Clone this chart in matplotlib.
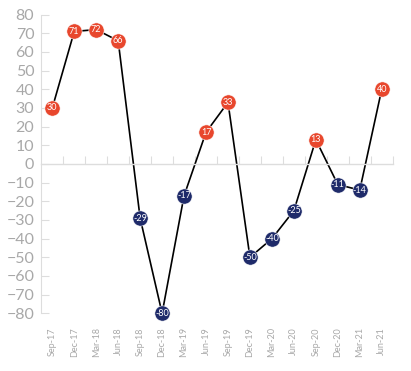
import matplotlib
matplotlib.use("Agg")
import matplotlib.pyplot as plt
from matplotlib.ticker import MultipleLocator, FixedLocator

quarters = ["Sep-17", "Dec-17", "Mar-18", "Jun-18", "Sep-18", "Dec-18", "Mar-19", "Jun-19",
            "Sep-19", "Dec-19", "Mar-20", "Jun-20", "Sep-20", "Dec-20", "Mar-21", "Jun-21"]
values = [30, 71, 72, 66, -29, -80, -17, 17, 33, -50, -40, -25, 13, -11, -14, 40]

RED = "#E8472D"
NAVY = "#1F2B6A"
GREY = "#A8A8A8"

plt.rcParams["font.family"] = ["Lato", "DejaVu Sans"]

fig = plt.figure(figsize=(4.11, 3.71), dpi=100)
ax = fig.add_axes([0.1005, 0.1555, 0.855, 0.805])

x = list(range(len(values)))
ax.plot(x, values, color="black", lw=1.2, zorder=2)
for xi, v in zip(x, values):
    c = RED if v > 0 else NAVY
    ax.plot(xi, v, "o", ms=11, color=c, mec="white", mew=0.4, zorder=3, clip_on=False)
    ax.text(xi, v, str(v), color="white", fontsize=6.5,
            ha="center", va="center", zorder=4)

ax.set_xlim(-0.5, len(values) - 0.5)
ax.set_ylim(-80, 80)

# y axis
ax.yaxis.set_major_locator(MultipleLocator(10))
ax.tick_params(axis="y", direction="in", length=5.5, width=0.8, color="#dddddd",
               labelsize=11.5, labelcolor=GREY, pad=5)
ax.spines["left"].set_color("#dddddd")
ax.spines["left"].set_linewidth(0.8)

# zero line with category boundary ticks
ax.spines["bottom"].set_position(("data", 0))
ax.spines["bottom"].set_color("#dddddd")
ax.spines["bottom"].set_linewidth(1.0)
ax.xaxis.set_major_locator(FixedLocator([i + 0.5 for i in range(len(values))]))
ax.tick_params(axis="x", direction="in", length=5.5, width=0.8, color="#dddddd",
               labelbottom=False)
ax.spines["top"].set_visible(False)
ax.spines["right"].set_visible(False)

# category labels at the bottom
sec = ax.secondary_xaxis(0)
sec.set_xticks(x)
sec.set_xticklabels(quarters, rotation=90)
sec.tick_params(length=0, labelsize=6.5, labelcolor=GREY, pad=10)
sec.spines["bottom"].set_visible(False)

fig.savefig("out.png", dpi=100)
